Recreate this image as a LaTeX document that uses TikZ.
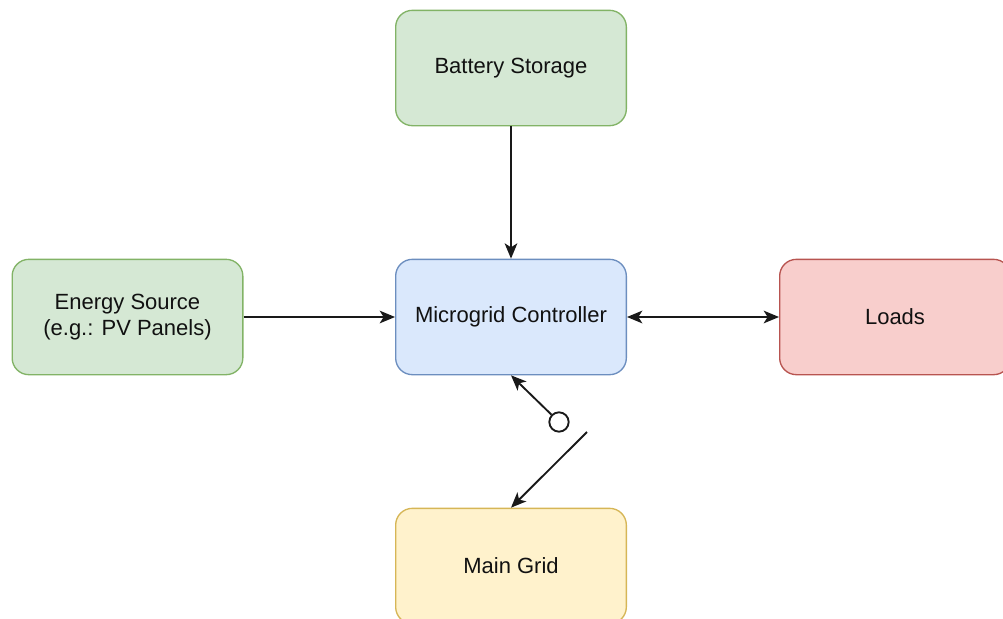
\documentclass[tikz,border=0pt]{standalone}
\usepackage{fontspec}
\setmainfont{Liberation Sans}
\usetikzlibrary{arrows.meta}
\definecolor{gfill}{HTML}{D5E8D4}\definecolor{gdraw}{HTML}{82B366}
\definecolor{bfill}{HTML}{DAE8FC}\definecolor{bdraw}{HTML}{6C8EBF}
\definecolor{rfill}{HTML}{F8CECC}\definecolor{rdraw}{HTML}{B85450}
\definecolor{yfill}{HTML}{FFF2CC}\definecolor{ydraw}{HTML}{D6B656}
\definecolor{txt}{HTML}{111111}
\tikzset{
  box/.style={rectangle, rounded corners=12.5pt, line width=1pt,
    minimum width=173pt, minimum height=86.5pt, inner sep=0pt, align=center,
    font=\fontsize{16.5pt}{20pt}\selectfont, text=txt},
  greenbox/.style={box, fill=gfill, draw=gdraw},
  bluebox/.style={box, fill=bfill, draw=bdraw},
  redbox/.style={box, fill=rfill, draw=rdraw},
  yellowbox/.style={box, fill=yfill, draw=ydraw},
  tip/.style={},
  conn/.style={line width=1.4pt, draw=black!90, -{Stealth[length=11.5pt,width=9.5pt,inset=3pt]}},
  biconn/.style={line width=1.4pt, draw=black!90, {Stealth[length=11.5pt,width=9.5pt,inset=3pt]}-{Stealth[length=11.5pt,width=9.5pt,inset=3pt]}},
  switchcirc/.style={circle, draw=black!90, fill=white, line width=1.4pt, minimum size=14.5pt, inner sep=0pt}
}
\begin{document}
\begin{tikzpicture}[x=0.75pt,y=-0.75pt]
\useasboundingbox (0,0) rectangle (1003,618);
\clip (0,0) rectangle (1003,618);
\node[greenbox] (bat) at (511,68) {Battery Storage};
\node[greenbox] (src) at (127.5,317) {Energy Source\\(e.g.: PV Panels)};
\node[bluebox] (ctrl) at (511,317) {Microgrid Controller};
\node[redbox] (loads) at (895,317) {Loads};
\node[yellowbox] (grid) at (511,566) {Main Grid};
\node[switchcirc] (sw) at (559,422) {};
\coordinate (swend) at (587,432);
\draw[conn] (bat) -- (ctrl);
\draw[conn] (src) -- (ctrl);
\draw[biconn] (ctrl) -- (loads);
\draw[conn] (sw) -- (ctrl.south);
\draw[conn] (swend) -- (grid.north);
\end{tikzpicture}
\end{document}
